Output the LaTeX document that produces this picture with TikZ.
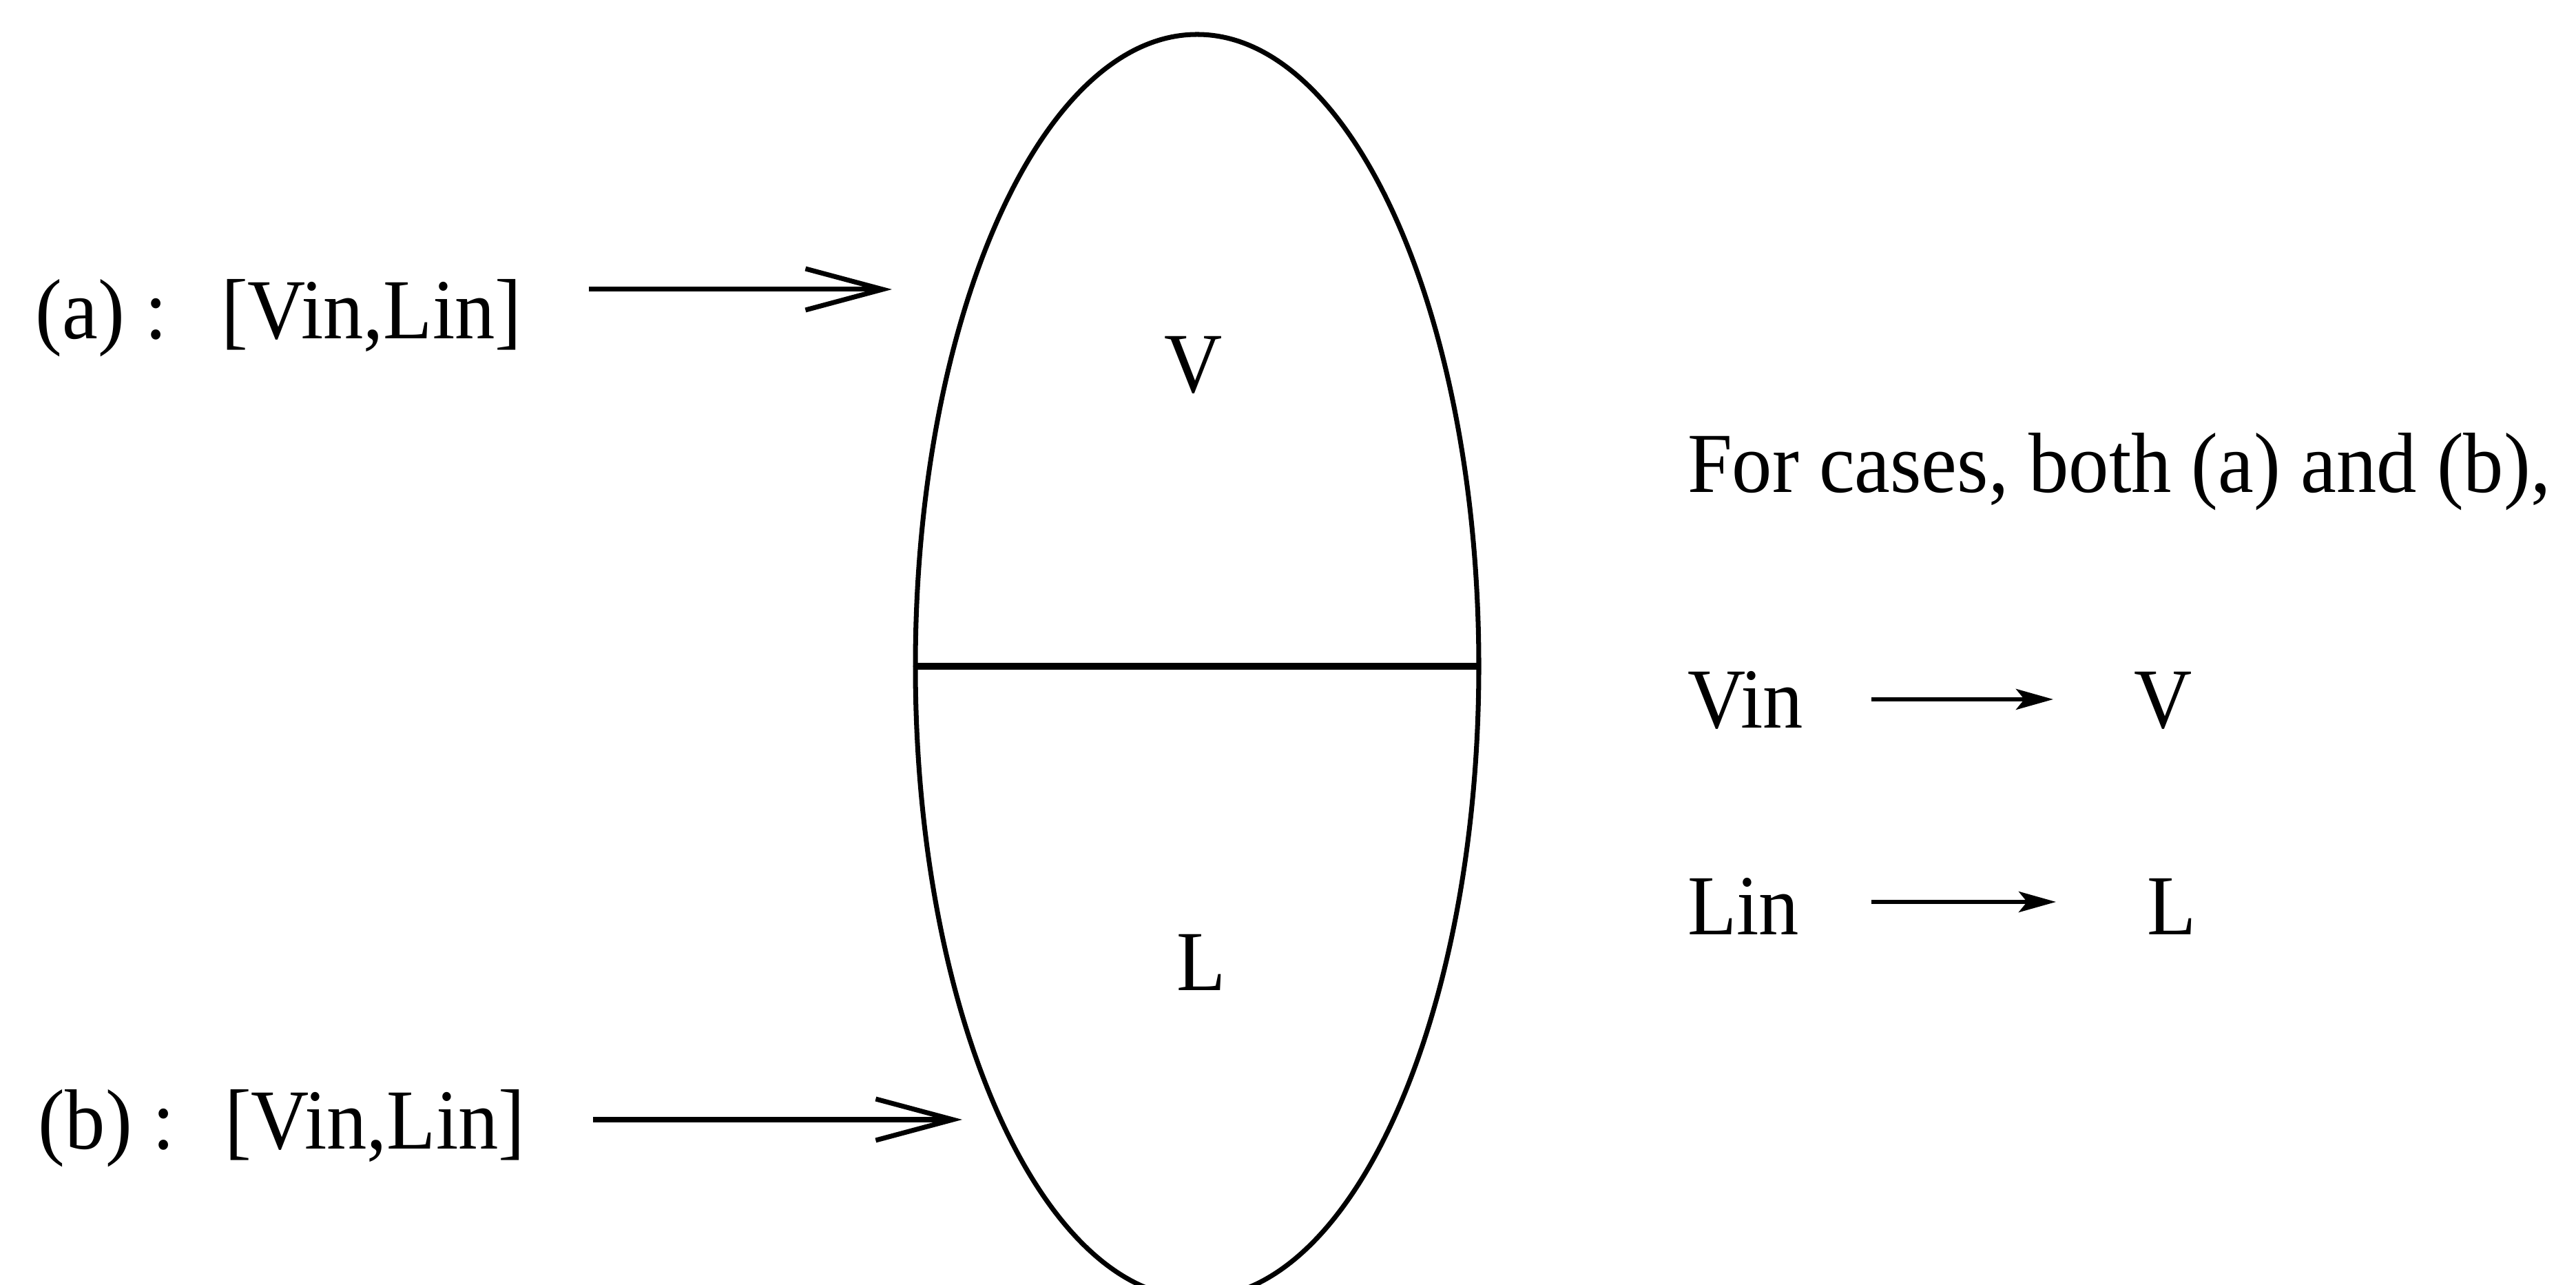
\documentclass[tikz,border=0pt]{standalone}
\usepackage{fontspec}
\setmainfont{Liberation Serif}[FakeStretch=0.94]
\usetikzlibrary{arrows.meta,shapes.geometric}
\tikzset{
  lbl/.style={inner sep=0pt, outer sep=0pt, font=\fontsize{35.3pt}{42pt}\selectfont},
  bigarrow/.style={line width=2pt, -{Straight Barb[length=1.12cm,width=0.6cm,line width=2pt]}},
  smallarrow/.style={line width=1.7pt, -{Stealth[length=0.54cm,width=0.3cm,inset=0.12cm]}},
  vessel/.style={draw, ellipse, inner sep=0pt, outer sep=0pt, line width=2pt, minimum width=8.18cm, minimum height=18.34cm}
}
\begin{document}
\begin{tikzpicture}[x=1cm,y=1cm]
\useasboundingbox (0,0) rectangle (37.4,18.65);
\clip (0,0) rectangle (37.4,18.65);
\fill[white] (0,0) rectangle (37.4,18.65);
% vessel
\node[vessel] (ell) at (17.38,8.98) {};
\draw[line width=2.6pt] (ell.west) -- (ell.east);
\node[lbl, anchor=base] (V) at (17.33,12.95) {V};
\node[lbl, anchor=base] (L) at (17.44,4.27) {L};
% case (a)
\node[lbl, anchor=base west] (la) at (0.52,13.73) {(a) :};
\node[lbl, anchor=base west] (va) at (3.21,13.73) {[Vin,Lin]};
\coordinate (a1) at (8.55,14.45);
\coordinate (a2) at (12.95,14.45);
\draw[bigarrow] (a1) -- (a2);
% case (b)
\node[lbl, anchor=base west] (lb) at (0.56,1.97) {(b) :};
\node[lbl, anchor=base west] (vb) at (3.26,1.97) {[Vin,Lin]};
\coordinate (b1) at (8.61,2.40);
\coordinate (b2) at (13.97,2.40);
\draw[bigarrow] (b1) -- (b2);
% right text
\node[lbl, anchor=base west] (txt) at (24.50,11.50) {For cases, both (a) and (b),};
\node[lbl, anchor=base west] (vin) at (24.50,8.08) {Vin};
\node[lbl, anchor=base west] (vout) at (30.98,8.08) {V};
\node[lbl, anchor=base west] (lin) at (24.50,5.08) {Lin};
\node[lbl, anchor=base west] (lout) at (31.17,5.08) {L};
\coordinate (v1) at (27.17,8.50);
\coordinate (v2) at (29.81,8.50);
\coordinate (l1) at (27.17,5.56);
\coordinate (l2) at (29.85,5.56);
\draw[smallarrow] (v1) -- (v2);
\draw[smallarrow] (l1) -- (l2);
\end{tikzpicture}
\end{document}
